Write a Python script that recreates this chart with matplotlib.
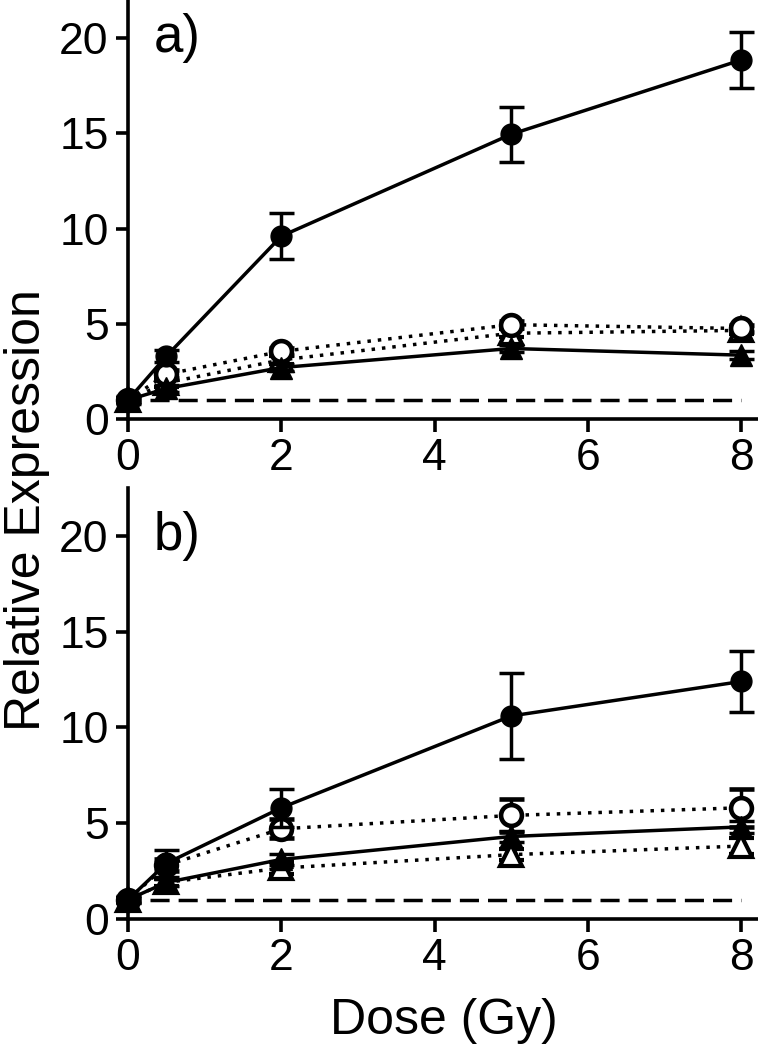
import matplotlib
matplotlib.use("Agg")
import matplotlib.pyplot as plt

plt.rcParams['font.family'] = ['Liberation Sans', 'DejaVu Sans']

dose = [0, 0.5, 2, 5, 8]

# Panel a
a_fc = [1.0, 3.3, 9.6, 14.95, 18.85]
a_fc_err = [0.2, 0.3, 1.2, 1.45, 1.45]
a_oc = [1.0, 2.35, 3.55, 4.95, 4.75]
a_oc_err = [0.1, 0.2, 0.2, 0.2, 0.2]
a_ot = [1.0, 1.9, 3.1, 4.5, 4.65]
a_ot_err = [0.1, 0.2, 0.2, 0.2, 0.2]
a_ft = [1.0, 1.6, 2.7, 3.7, 3.35]
a_ft_err = [0.1, 0.2, 0.2, 0.2, 0.2]

# Panel b
b_fc = [1.0, 2.9, 5.8, 10.6, 12.4]
b_fc_err = [0.2, 0.7, 1.0, 2.25, 1.6]
b_oc = [1.0, 2.8, 4.7, 5.4, 5.8]
b_oc_err = [0.1, 0.3, 0.5, 0.85, 1.0]
b_ot = [1.0, 1.9, 2.65, 3.35, 3.8]
b_ot_err = [0.1, 0.2, 0.3, 0.3, 0.4]
b_ft = [1.0, 1.9, 3.1, 4.3, 4.8]
b_ft_err = [0.1, 0.2, 0.3, 0.3, 0.3]

baseline = 1.0
base_x = [0.28, 8.0]

xticks = [0, 2, 4, 6, 8]
yticks = [0, 5, 10, 15, 20]

fig = plt.figure(figsize=(7.58, 10.5), dpi=100)
ax_a = fig.add_axes([0.169, 0.601, 0.831, 0.399])
ax_b = fig.add_axes([0.169, 0.125, 0.831, 0.41])

LW = 2.5
MS = 15
CAP = 9


def draw(ax, fc, fce, oc, oce, ot, ote, ft, fte, ymax, label):
    ax.plot(base_x, [baseline, baseline], color='black', lw=LW,
            linestyle=(0, (5.5, 2.6)), zorder=1)
    common = dict(capsize=CAP, elinewidth=LW, capthick=LW, ecolor='black')
    ax.errorbar(dose, ot, yerr=ote, color='black', lw=LW, linestyle=(0, (1, 2.0)),
                marker='^', ms=MS + 1, mfc='white', mec='black', mew=3, zorder=3, **common)
    ax.errorbar(dose, oc, yerr=oce, color='black', lw=LW, linestyle=(0, (1, 2.0)),
                marker='o', ms=MS, mfc='white', mec='black', mew=3.3, zorder=3, **common)
    ax.errorbar(dose, ft, yerr=fte, color='black', lw=LW, linestyle='-',
                marker='^', ms=MS + 1, mfc='black', mec='black', zorder=4, **common)
    ax.errorbar(dose, fc, yerr=fce, color='black', lw=LW, linestyle='-',
                marker='o', ms=MS, mfc='black', mec='black', zorder=5, **common)
    ax.set_xlim(0, 8.22)
    ax.set_ylim(0, ymax)
    ax.set_xticks(xticks)
    ax.set_yticks(yticks)
    for s in ['top', 'right']:
        ax.spines[s].set_visible(False)
    for s in ['left', 'bottom']:
        ax.spines[s].set_linewidth(2.6)
    ax.tick_params(axis='both', direction='out', length=9, width=2.6,
                   labelsize=32, pad=5)
    ax.text(0.33, 20.0, label, fontsize=38, va='center', ha='left')
    for ln in ax.get_lines():
        ln.set_clip_on(False)


draw(ax_a, a_fc, a_fc_err, a_oc, a_oc_err, a_ot, a_ot_err, a_ft, a_ft_err, 22, 'a)')
draw(ax_b, b_fc, b_fc_err, b_oc, b_oc_err, b_ot, b_ot_err, b_ft, b_ft_err, 22.5, 'b)')

fig.text(0.036, 0.514, 'Relative Expression', rotation=90, fontsize=36,
         va='center', ha='center')
fig.text(0.586, 0.028, 'Dose (Gy)', fontsize=36, va='center', ha='center')

fig.savefig('out.png', dpi=100)
